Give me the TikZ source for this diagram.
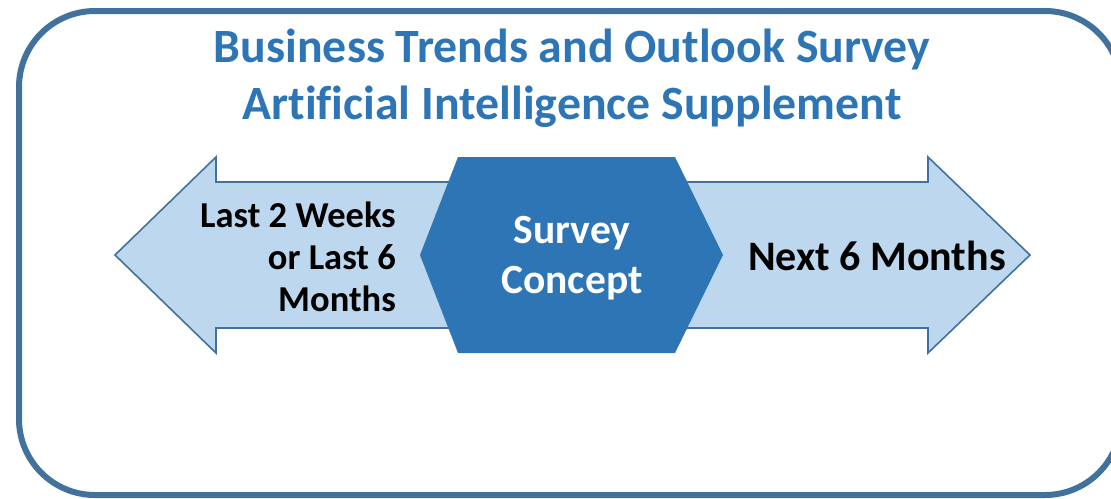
\documentclass[tikz,border=0pt]{standalone}
\usepackage{fontspec}
\setmainfont[Ligatures=NoCommon]{Carlito}
\definecolor{frameblue}{RGB}{65,114,158}
\definecolor{titleblue}{RGB}{46,117,182}
\definecolor{hexblue}{RGB}{46,117,182}
\definecolor{arrowfill}{RGB}{189,215,238}
\definecolor{arrowline}{RGB}{65,113,156}
\begin{document}
\begin{tikzpicture}[x=1pt,y=-1pt,
  titletext/.style={font=\fontsize{47.8}{57}\selectfont\bfseries, text=titleblue, inner sep=0pt, anchor=base},
  bodytext/.style={font=\fontsize{36.5}{42}\selectfont\bfseries, text=black, inner sep=0pt},
  righttext/.style={font=\fontsize{42}{50}\selectfont\bfseries, text=black, inner sep=0pt},
  hextext/.style={font=\fontsize{41.5}{50}\selectfont\bfseries, text=white, inner sep=0pt, align=center}]
\useasboundingbox (0,0) rectangle (1111,498);
\clip (0,0) rectangle (1111,498);
% frame
\draw[frameblue, line width=6pt, rounded corners=76pt] (19,11) rectangle (1121,495);
% double arrow
\draw[arrowline, fill=arrowfill, line width=1.6pt, line join=miter]
  (115,255) -- (216,157) -- (216,182) -- (928,182) -- (928,157) -- (1030,255)
  -- (928,353) -- (928,328) -- (216,328) -- (216,353) -- cycle;
% hexagon
\fill[hexblue] (458,157) -- (675,157) -- (723,255) -- (675,353) -- (458,353) -- (420,255) -- cycle;
% texts
\node[titletext] (t1) at (572,62) {Business Trends and Outlook Survey};
\node[titletext] (t2) at (572,119) {Artificial Intelligence Supplement};
\node[hextext] (hex) at (572,258) {Survey\\Concept};
\node[bodytext, align=right, anchor=east] (left) at (396,257) {Last 2 Weeks\\or Last 6\\Months};
\node[righttext, anchor=base west] (right) at (748,270) {Next 6 Months};
\end{tikzpicture}
\end{document}
